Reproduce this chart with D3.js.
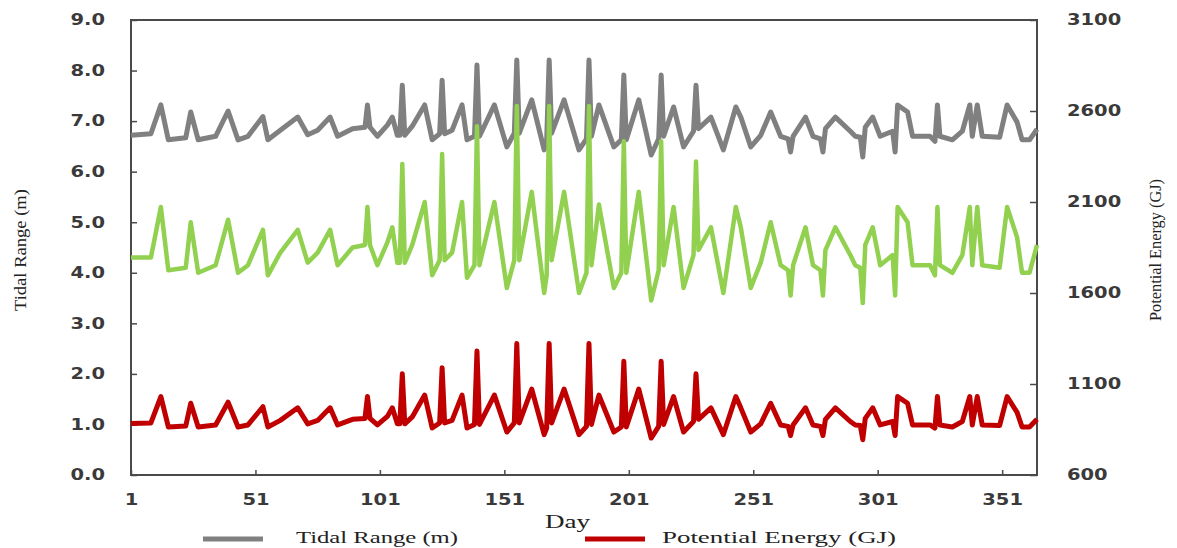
<!DOCTYPE html>
<html>
<head>
<meta charset="utf-8">
<script src="https://cdn.jsdelivr.net/npm/d3@7"></script>
<style>
  html, body { margin: 0; padding: 0; background: #fff; }
  svg { display: block; }
</style>
</head>
<body>
<svg id="chart" width="1177" height="548"></svg>
<script>
// Day of year at each vertex of the daily series
const days = [
  1, 9, 13, 16, 23, 25, 28, 35, 40, 44,
  48, 54, 56, 61, 68, 72, 76, 81, 84, 90,
  95, 96, 97, 100, 104, 106, 108, 109, 110, 111,
  114, 119, 122, 125, 126, 127, 130, 134, 136, 139,
  140, 141, 147, 152, 155, 156, 157, 162, 167, 168,
  169, 170, 175, 181, 184, 185, 186, 189, 195, 198,
  199, 200, 205, 210, 213, 214, 215, 219, 223, 227,
  228, 229, 234, 239, 244, 246, 250, 254, 258, 262,
  265, 266, 267, 272, 275, 278, 279, 280, 284, 290,
  292, 294, 295, 296, 299, 302, 307, 308, 309, 313,
  315, 322, 324, 325, 326, 331, 335, 338, 339, 341,
  343, 350, 353, 357, 359, 362, 365
];

// Tidal range (m), left axis
const tidalRange = [
  6.72, 6.75, 7.32, 6.63, 6.67, 7.18, 6.63, 6.70, 7.20, 6.63,
  6.70, 7.09, 6.63, 6.82, 7.08, 6.73, 6.82, 7.08, 6.70, 6.85,
  6.88, 7.32, 6.88, 6.70, 6.92, 7.08, 6.72, 6.72, 7.71, 6.72,
  6.90, 7.32, 6.63, 6.75, 7.81, 6.75, 6.82, 7.32, 6.63, 6.70,
  8.11, 6.70, 7.32, 6.49, 6.76, 8.21, 6.76, 7.42, 6.43, 6.60,
  8.21, 6.76, 7.42, 6.43, 6.65, 8.21, 6.70, 7.32, 6.49, 6.63,
  7.91, 6.63, 7.42, 6.33, 6.65, 7.91, 6.70, 7.28, 6.49, 6.80,
  7.71, 6.85, 7.08, 6.43, 7.28, 7.08, 6.49, 6.72, 7.18, 6.70,
  6.65, 6.39, 6.70, 7.08, 6.70, 6.65, 6.39, 6.85, 7.08, 6.80,
  6.70, 6.68, 6.29, 6.88, 7.08, 6.70, 6.80, 6.39, 7.32, 7.18,
  6.70, 6.70, 6.60, 7.32, 6.70, 6.63, 6.80, 7.32, 6.70, 7.32,
  6.70, 6.68, 7.32, 6.98, 6.63, 6.63, 6.84
];

// Green series, left axis units
const greenSeries = [
  4.30, 4.30, 5.30, 4.05, 4.10, 5.00, 4.00, 4.15, 5.05, 4.00,
  4.15, 4.85, 3.95, 4.40, 4.85, 4.20, 4.40, 4.85, 4.15, 4.50,
  4.55, 5.30, 4.55, 4.15, 4.60, 4.90, 4.20, 4.20, 6.15, 4.20,
  4.55, 5.40, 3.95, 4.25, 6.35, 4.25, 4.40, 5.40, 3.90, 4.15,
  6.90, 4.15, 5.40, 3.70, 4.25, 7.30, 4.25, 5.60, 3.60, 3.95,
  7.30, 4.25, 5.60, 3.60, 4.00, 7.30, 4.15, 5.35, 3.70, 4.00,
  6.60, 4.00, 5.60, 3.45, 4.05, 6.60, 4.15, 5.30, 3.70, 4.35,
  6.20, 4.45, 4.90, 3.60, 5.30, 4.90, 3.70, 4.20, 5.00, 4.15,
  4.05, 3.55, 4.15, 4.90, 4.15, 4.05, 3.55, 4.45, 4.90, 4.35,
  4.15, 4.10, 3.40, 4.55, 4.90, 4.15, 4.35, 3.55, 5.30, 5.00,
  4.15, 4.15, 3.95, 5.30, 4.15, 4.00, 4.35, 5.30, 4.15, 5.30,
  4.15, 4.10, 5.30, 4.70, 4.00, 4.00, 4.55
];

// Potential energy (GJ), right axis
const potentialEnergy = [
  883, 886, 1031, 864, 869, 994, 864, 875, 1000, 864,
  875, 975, 864, 900, 969, 881, 900, 969, 875, 906,
  911, 1031, 911, 875, 922, 969, 881, 881, 1156, 881,
  919, 1039, 858, 886, 1189, 886, 900, 1039, 858, 878,
  1281, 878, 1039, 836, 886, 1322, 886, 1072, 822, 858,
  1322, 886, 1072, 822, 867, 1322, 878, 1039, 836, 864,
  1225, 864, 1072, 803, 867, 1225, 878, 1031, 836, 894,
  1156, 906, 969, 822, 1031, 969, 836, 881, 994, 875,
  867, 817, 875, 969, 875, 867, 817, 906, 969, 894,
  875, 872, 794, 911, 969, 875, 894, 817, 1031, 994,
  875, 875, 858, 1031, 875, 864, 894, 1031, 875, 1031,
  875, 872, 1031, 944, 864, 864, 906
];

const dayTicks = [1, 51, 101, 151, 201, 251, 301, 351];
const rangeTicks = [0, 1, 2, 3, 4, 5, 6, 7, 8, 9];
const energyTicks = [600, 1100, 1600, 2100, 2600, 3100];

const svg = d3.select("#chart");
const plot = { left: 131, right: 1037, top: 20, bottom: 475 };

const x = d3.scaleLinear().domain([1, 365]).range([plot.left, plot.right]);
const yL = d3.scaleLinear().domain([0, 9]).range([plot.bottom, plot.top]);
const yR = d3.scaleLinear().domain([600, 3100]).range([plot.bottom, plot.top]);

const axisColor = "#4a4a4a";
const labelColor = "#3a3a3a";
const wide = 1.3;

function styleAxis(g) {
  g.select(".domain").remove();
  g.selectAll(".tick line").attr("stroke", axisColor).attr("stroke-width", 1.5);
  g.selectAll(".tick text")
    .attr("fill", labelColor)
    .style("font-family", "'DejaVu Sans', Verdana, sans-serif")
    .style("font-weight", "bold")
    .style("font-size", "15px")
    .attr("transform", `scale(${wide},1)`)
    .attr("x", function () { return (+this.getAttribute("x") || 0) / wide; });
}

svg.append("g")
  .attr("transform", `translate(0,${plot.bottom})`)
  .call(d3.axisBottom(x).tickValues(dayTicks).tickFormat(d3.format("d"))
    .tickSizeInner(-5).tickSizeOuter(0).tickPadding(19))
  .call(styleAxis);

svg.append("g")
  .attr("transform", `translate(${plot.left},0)`)
  .call(d3.axisLeft(yL).tickValues(rangeTicks).tickFormat(d3.format(".1f"))
    .tickSizeInner(-6).tickSizeOuter(0).tickPadding(26))
  .call(styleAxis);

svg.append("g")
  .attr("transform", `translate(${plot.right},0)`)
  .call(d3.axisRight(yR).tickValues(energyTicks).tickFormat(d3.format("d"))
    .tickSizeInner(-7).tickSizeOuter(0).tickPadding(30))
  .call(styleAxis);

// plot frame
svg.append("rect")
  .attr("x", plot.left).attr("y", plot.top)
  .attr("width", plot.right - plot.left).attr("height", plot.bottom - plot.top)
  .attr("fill", "none").attr("stroke", axisColor).attr("stroke-width", 2);

const idx = d3.range(days.length);
function drawLine(values, yScale, color, width) {
  svg.append("path")
    .datum(idx)
    .attr("fill", "none")
    .attr("stroke", color)
    .attr("stroke-width", width)
    .attr("stroke-linejoin", "round")
    .attr("d", d3.line().x(i => x(days[i])).y(i => yScale(values[i])));
}

drawLine(tidalRange, yL, "#808080", 5);
drawLine(greenSeries, yL, "#92d050", 4.5);
drawLine(potentialEnergy, yR, "#c00000", 5);

// axis titles
const serif = "'Liberation Serif', 'Times New Roman', serif";
svg.append("text")
  .attr("transform", "translate(26,250) rotate(-90)")
  .attr("text-anchor", "middle")
  .attr("fill", "#222")
  .style("font-family", serif).style("font-size", "17px")
  .attr("textLength", 122).attr("lengthAdjust", "spacingAndGlyphs")
  .text("Tidal Range (m)");

svg.append("text")
  .attr("transform", "translate(1161,250) rotate(-90)")
  .attr("text-anchor", "middle")
  .attr("fill", "#222")
  .style("font-family", serif).style("font-size", "16px")
  .attr("textLength", 142).attr("lengthAdjust", "spacingAndGlyphs")
  .text("Potential Energy (GJ)");

svg.append("text")
  .attr("x", 545).attr("y", 528)
  .attr("fill", "#222")
  .style("font-family", serif).style("font-size", "18px")
  .attr("textLength", 45).attr("lengthAdjust", "spacingAndGlyphs")
  .text("Day");

// legend
const legendItems = [
  { label: "Tidal Range (m)", color: "#808080", x0: 203, x1: 263, tx: 296, tw: 162 },
  { label: "Potential Energy (GJ)", color: "#c00000", x0: 585, x1: 645, tx: 662, tw: 234 }
];
legendItems.forEach(d => {
  svg.append("line")
    .attr("x1", d.x0).attr("x2", d.x1).attr("y1", 539).attr("y2", 539)
    .attr("stroke", d.color).attr("stroke-width", 5);
  svg.append("text")
    .attr("x", d.tx).attr("y", 543)
    .attr("fill", "#222")
    .style("font-family", serif).style("font-size", "16px")
    .attr("textLength", d.tw).attr("lengthAdjust", "spacingAndGlyphs")
    .text(d.label);
});
</script>
</body>
</html>
